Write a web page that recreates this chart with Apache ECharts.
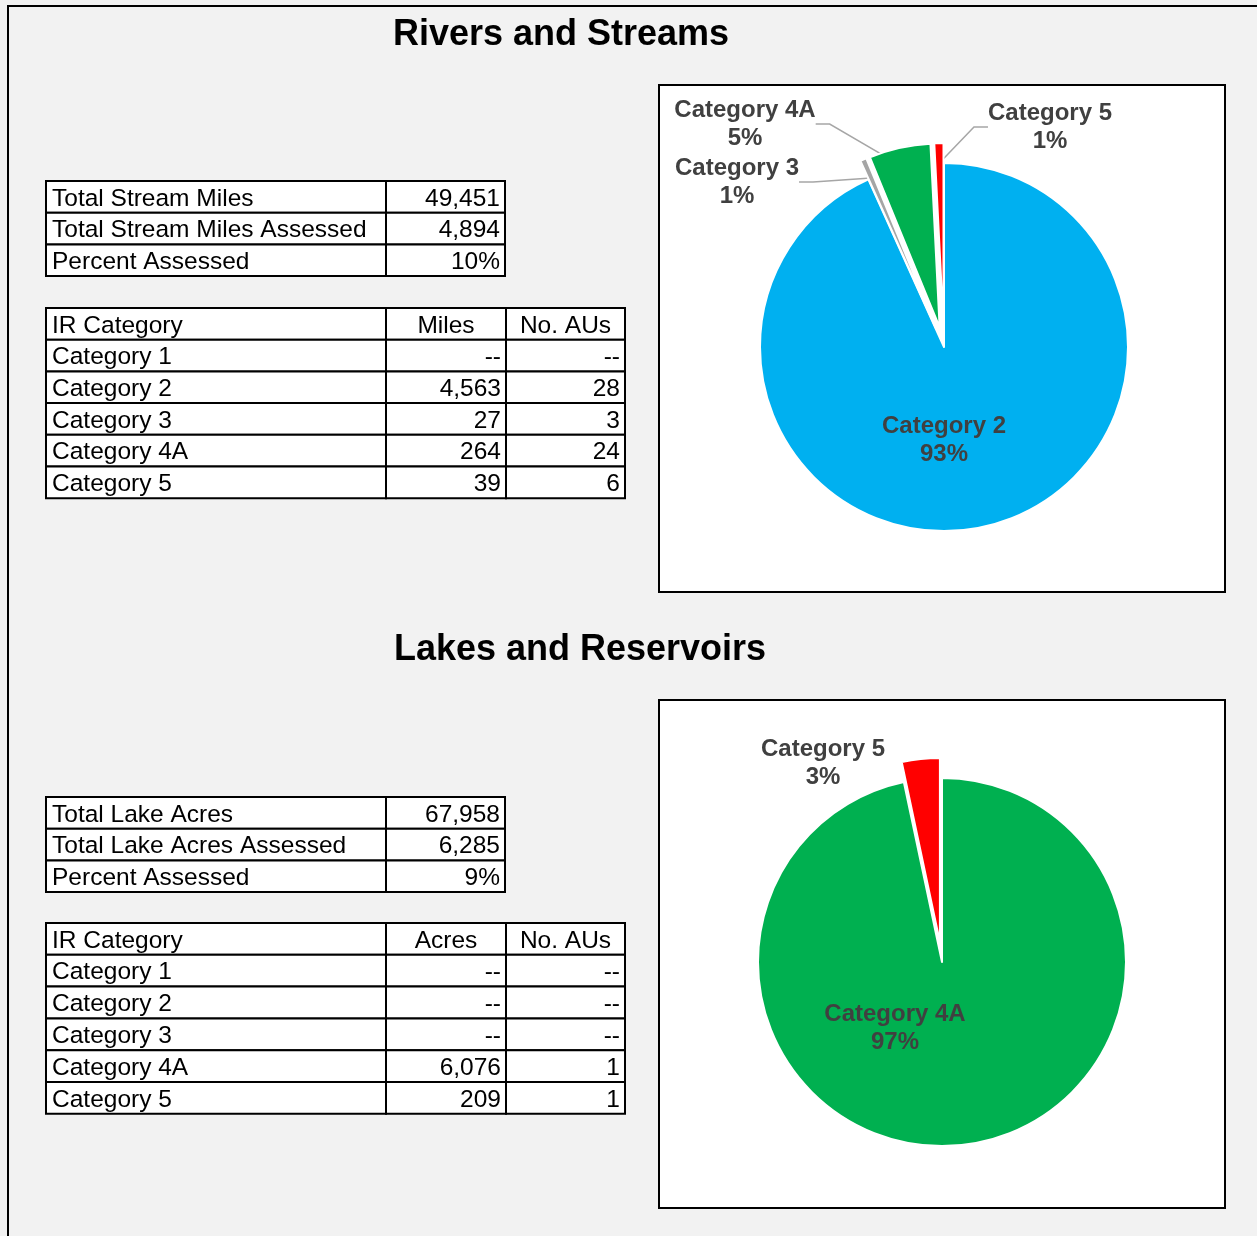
<!DOCTYPE html>
<html><head><meta charset="utf-8">
<script src="https://cdn.jsdelivr.net/npm/echarts@6/dist/echarts.min.js"></script>
<style>html,body{margin:0;padding:0;background:#f2f2f2}#c{width:1257px;height:1236px}</style>
</head><body><div id="c"></div>
<script>
// ---------- data ----------
const sectionTitles = ['Rivers and Streams', 'Lakes and Reservoirs'];
const categories = ['Category 1', 'Category 2', 'Category 3', 'Category 4A', 'Category 5'];

const riverSummaryLabels = ['Total Stream Miles', 'Total Stream Miles Assessed', 'Percent Assessed'];
const riverSummaryValues = ['49,451', '4,894', '10%'];
const riverHeaders = ['IR Category', 'Miles', 'No. AUs'];
const riverMiles = [null, 4563, 27, 264, 39];
const riverAUs = [null, 28, 3, 24, 6];

const lakeSummaryLabels = ['Total Lake Acres', 'Total Lake Acres Assessed', 'Percent Assessed'];
const lakeSummaryValues = ['67,958', '6,285', '9%'];
const lakeHeaders = ['IR Category', 'Acres', 'No. AUs'];
const lakeAcres = [null, null, null, 6076, 209];
const lakeAUs = [null, null, null, 1, 1];

// ---------- styles / layout ----------
const FONT = '"Liberation Sans", Arial, sans-serif';
const categoryColors = {
  'Category 2': '#00B0F0', 'Category 3': '#A5A5A5', 'Category 4A': '#00B050', 'Category 5': '#FF0000'
};
const fmt = v => (v == null ? '--' : v.toLocaleString('en-US'));

function tableGraphics(colEdges, y0, rowH, rows, headerRow) {
  const els = [];
  rows.forEach((row, r) => {
    const y = y0 + r * rowH;
    row.forEach((txt, c) => {
      const x1 = colEdges[c], x2 = colEdges[c + 1];
      els.push({ type: 'rect', z: 1, shape: { x: x1, y: y, width: x2 - x1, height: rowH },
        style: { fill: '#fff', stroke: '#000', lineWidth: 2 } });
      let align = 'right', tx = x2 - 5;
      if (c === 0) { align = 'left'; tx = x1 + 6; }
      else if (headerRow && r === 0) { align = 'center'; tx = (x1 + x2) / 2; }
      els.push({ type: 'text', z: 2, style: { text: txt, x: tx, y: y + rowH / 2 + 2,
        textAlign: align, textVerticalAlign: 'middle', font: '24.5px ' + FONT, fill: '#000' } });
    });
  });
  return els;
}

const riverSummaryRows = riverSummaryLabels.map((l, i) => [l, riverSummaryValues[i]]);
const riverCatRows = [riverHeaders].concat(categories.map((c, i) => [c, fmt(riverMiles[i]), fmt(riverAUs[i])]));
const lakeSummaryRows = lakeSummaryLabels.map((l, i) => [l, lakeSummaryValues[i]]);
const lakeCatRows = [lakeHeaders].concat(categories.map((c, i) => [c, fmt(lakeAcres[i]), fmt(lakeAUs[i])]));

const graphics = [
  { type: 'rect', z: 0, shape: { x: 8, y: 6, width: 1400, height: 1400 }, style: { fill: '#f2f2f2', stroke: '#000', lineWidth: 2 } },
  { type: 'rect', z: 0, shape: { x: 659, y: 85, width: 566, height: 507 }, style: { fill: '#fff', stroke: '#000', lineWidth: 2 } },
  { type: 'rect', z: 0, shape: { x: 659, y: 700, width: 566, height: 508 }, style: { fill: '#fff', stroke: '#000', lineWidth: 2 } },
  { type: 'text', z: 2, style: { text: sectionTitles[0], x: 561, y: 35, textAlign: 'center', textVerticalAlign: 'middle', font: 'bold 36px ' + FONT, fill: '#000' } },
  { type: 'text', z: 2, style: { text: sectionTitles[1], x: 580, y: 650, textAlign: 'center', textVerticalAlign: 'middle', font: 'bold 36px ' + FONT, fill: '#000' } }
].concat(
  tableGraphics([46, 386, 505], 181, 31.7, riverSummaryRows, false),
  tableGraphics([46, 386, 506, 625], 308, 31.7, riverCatRows, true),
  tableGraphics([46, 386, 505], 797, 31.7, lakeSummaryRows, false),
  tableGraphics([46, 386, 506, 625], 923, 31.8, lakeCatRows, true)
);

// label anchor positions (label centres, page px)
const labelAnchors = [
  { 'Category 2': [944, 440], 'Category 3': [737, 182], 'Category 4A': [745, 124], 'Category 5': [1050, 127] },
  { 'Category 4A': [895, 1028], 'Category 5': [823, 763] }
];
const insideLabels = ['Category 2', 'Category 4A'];
const noLineLabels = [[], ['Category 5']];

// role 'shape': visible exploded slices (+ inside label); role 'labels': outside labels with leader lines
function pieData(values, si, role) {
  const out = [];
  categories.forEach((c, i) => {
    if (values[i] == null) return;
    const inside = insideLabels[si] === c;
    const item = { name: c, value: values[i] };
    if (role === 'shape') {
      item.selected = !inside;
      item.itemStyle = { color: categoryColors[c] };
      item.label = { show: inside };
    } else {
      item.itemStyle = { color: 'rgba(0,0,0,0)', borderWidth: 0 };
      item.label = { show: !inside };
      if (noLineLabels[si].indexOf(c) >= 0) item.labelLine = { show: false };
    }
    out.push(item);
  });
  return out;
}
const pieSets = [
  { shape: pieData(riverMiles, 0, 'shape'), labels: pieData(riverMiles, 0, 'labels'), center: [944, 347] },
  { shape: pieData(lakeAcres, 1, 'shape'), labels: pieData(lakeAcres, 1, 'labels'), center: [942, 962] }
];

function makePie(si, role) {
  const set = pieSets[si];
  const data = set[role];
  const isShape = role === 'shape';
  return {
    type: 'pie', center: set.center, radius: 184, startAngle: 90, clockwise: true,
    z: isShape ? 3 : 2,
    selectedMode: isShape ? 'multiple' : false, selectedOffset: 20, percentPrecision: 0,
    silent: true, animation: false, avoidLabelOverlap: false,
    emphasis: { disabled: true },
    itemStyle: { borderColor: '#fff', borderWidth: isShape ? 2 : 0 },
    label: { show: true, position: isShape ? 'inside' : 'outside', color: '#404040', fontFamily: FONT, fontWeight: 'bold',
      fontSize: 24, lineHeight: 28, align: 'center',
      formatter: p => p.name + '\n' + p.percent + '%' },
    labelLine: { show: !isShape, length: 10, length2: 14, lineStyle: { color: '#A6A6A6', width: 1.5 } },
    labelLayout: function (params) {
      const name = data[params.dataIndex].name;
      const a = labelAnchors[si][name];
      if (!a) return {};
      return { x: a[0], y: a[1], align: 'center', verticalAlign: 'middle' };
    },
    data: data
  };
}

const chart = echarts.init(document.getElementById('c'), null, { renderer: 'canvas' });
chart.setOption({
  backgroundColor: '#f2f2f2',
  animation: false,
  graphic: { elements: graphics },
  series: [makePie(0, 'labels'), makePie(0, 'shape'), makePie(1, 'labels'), makePie(1, 'shape')]
});
</script></body></html>
